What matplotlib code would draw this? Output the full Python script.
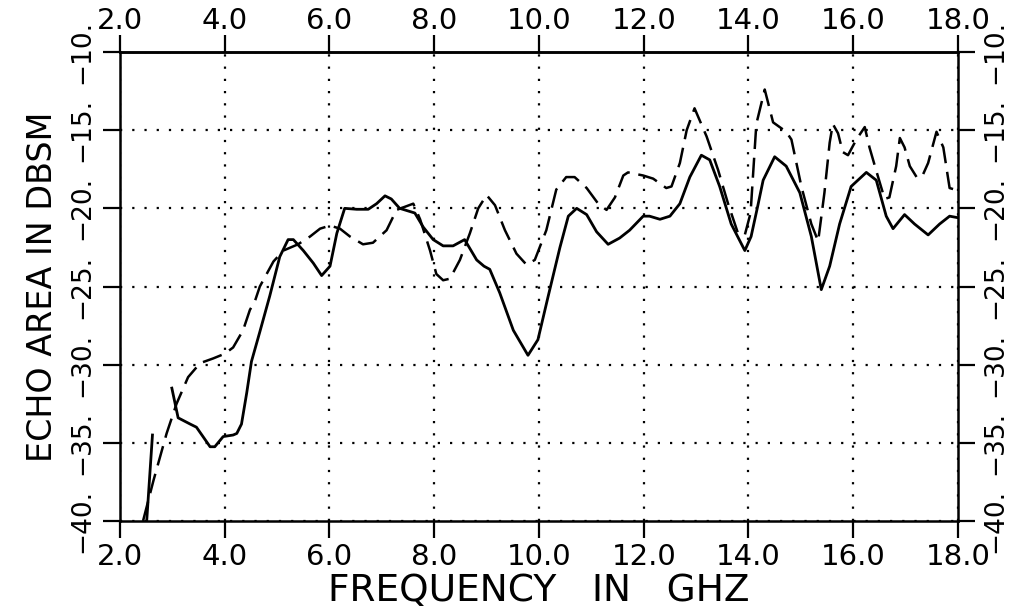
import numpy as np
import matplotlib
matplotlib.use("Agg")
import matplotlib.pyplot as plt

# ---- data ----
solid_freq = [2.51, 2.62, np.nan, 2.99, 3.11, 3.34, 3.46, 3.72, 3.81, 3.97, 4.16, 4.23, 4.32,
              4.42, 4.51, 4.67, 4.86, 5.05, 5.21, 5.31, 5.50, 5.69, 5.85, 6.01, 6.14, 6.29,
              6.52, 6.74, 6.90, 7.06, 7.18, 7.34, 7.63, 7.79, 7.98, 8.17, 8.36, 8.58, 8.81,
              8.95, 9.06, 9.25, 9.51, 9.79, 9.98, 10.17, 10.40, 10.56, 10.72, 10.91, 11.10,
              11.32, 11.54, 11.73, 11.99, 12.11, 12.31, 12.50, 12.69, 12.88, 13.10, 13.26,
              13.45, 13.67, 13.93, 14.05, 14.18, 14.28, 14.50, 14.72, 14.98, 15.20, 15.39,
              15.55, 15.74, 15.96, 16.25, 16.44, 16.63, 16.76, 16.98, 17.17, 17.43, 17.65,
              17.84, 18.0]
solid_db = [-40.0, -34.5, np.nan, -31.5, -33.4, -33.8, -34.0, -35.25, -35.25, -34.6, -34.5, -34.4, -33.8,
            -31.8, -29.8, -27.9, -25.6, -23.1, -22.0, -22.0, -22.7, -23.5, -24.3, -23.7, -21.6, -20.0,
            -20.06, -20.06, -19.7, -19.2, -19.4, -20.0, -20.3, -21.2, -22.0, -22.4, -22.4, -22.0, -23.3,
            -23.7, -23.9, -25.4, -27.8, -29.4, -28.4, -25.7, -22.5, -20.5, -20.0, -20.4, -21.5,
            -22.3, -21.9, -21.4, -20.5, -20.5, -20.7, -20.5, -19.7, -18.0, -16.6, -16.9,
            -18.6, -21.0, -22.7, -21.8, -19.8, -18.2, -16.7, -17.3, -19.0, -21.8, -25.2,
            -23.7, -21.0, -18.6, -17.7, -18.2, -20.5, -21.3, -20.4, -21.0, -21.7, -21.0,
            -20.5, -20.6]

dashed_freq = [2.44, 2.64, 2.89, 3.08, 3.30, 3.53, 3.78, 4.00, 4.16, 4.35, 4.48, 4.58, 4.67,
               4.93, 5.12, 5.40, 5.63, 5.82, 6.01, 6.20, 6.39, 6.64, 6.83, 7.09, 7.28, 7.44,
               7.60, 7.73, 7.92, 8.04, 8.17, 8.30, 8.49, 8.68, 8.84, 9.00, 9.16, 9.35, 9.57,
               9.76, 9.92, 10.14, 10.33, 10.52, 10.68, 10.91, 11.13, 11.29, 11.45, 11.61, 11.70,
               11.99, 12.18, 12.43, 12.53, 12.69, 12.82, 12.97, 13.20, 13.42, 13.61, 13.80, 13.93,
               14.04, 14.15, 14.31, 14.47, 14.72, 14.82, 15.01, 15.20, 15.33, 15.45, 15.55, 15.61,
               15.71, 15.80, 15.90, 16.06, 16.22, 16.31, 16.44, 16.60, 16.69, 16.82, 16.89, 16.98,
               17.08, 17.21, 17.31, 17.43, 17.59, 17.72, 17.84, 17.94]
dashed_db = [-40.0, -37.4, -34.4, -32.5, -30.8, -29.9, -29.6, -29.3, -28.9, -27.8, -26.5, -25.9, -25.0,
             -23.4, -22.7, -22.3, -21.8, -21.3, -21.1, -21.3, -21.8, -22.3, -22.2, -21.4, -20.1, -19.9,
             -19.7, -20.7, -22.7, -24.2, -24.6, -24.5, -23.3, -21.6, -20.0, -19.15, -19.8, -21.4, -22.9,
             -23.6, -23.3, -21.4, -18.8, -18.0, -18.0, -18.7, -19.7, -20.1, -19.3, -17.9, -17.7,
             -17.9, -18.1, -18.7, -18.6, -17.1, -15.0, -13.6, -15.4, -17.55, -19.7, -21.6, -21.7,
             -20.3, -14.6, -12.4, -14.5, -15.1, -15.6, -18.6, -21.0, -22.1, -19.0, -15.8, -14.6,
             -15.2, -16.4, -16.6, -15.6, -14.8, -16.1, -17.6, -19.4, -19.3, -17.3, -15.5, -16.1,
             -17.3, -18.0, -18.0, -17.1, -15.1, -16.1, -18.7, -18.8]

xticks = [2, 4, 6, 8, 10, 12, 14, 16, 18]
xtick_labels = ["2.0", "4.0", "6.0", "8.0", "10.0", "12.0", "14.0", "16.0", "18.0"]
yticks = [-40, -35, -30, -25, -20, -15, -10]
ytick_labels = ["\u221240.", "\u221235.", "\u221230.", "\u221225.", "\u221220.", "\u221215.", "\u221210."]
x_label = "FREQUENCY   IN   GHZ"
y_label = "ECHO AREA IN DBSM"

# ---- figure ----
plt.rcParams['font.family'] = ['DejaVu Sans']
fig = plt.figure(figsize=(10.10, 6.12), dpi=100)
ax = fig.add_axes([0.1188, 0.1487, 0.8297, 0.7663])

ax.plot(solid_freq, solid_db, color='black', lw=2.0, solid_joinstyle='round')
ax.plot(dashed_freq, dashed_db, color='black', lw=1.8, dashes=(8, 3.5))

ax.set_xlim(2, 18)
ax.set_ylim(-40, -10)
ax.set_xticks(xticks)
ax.set_xticklabels(xtick_labels)
ax.set_yticks(yticks)
ax.set_yticklabels(ytick_labels)

ax.grid(True, color='black', linestyle=(0, (1, 4.5)), lw=1.6)

for s in ax.spines.values():
    s.set_linewidth(1.8)

ax.tick_params(axis='both', direction='out', length=12.5, width=1.6,
               top=False, right=True, labeltop=False, labelright=True)
ax.tick_params(axis='x', labelsize=21, pad=3)
ax.tick_params(axis='y', labelsize=19, pad=5)
for t in ax.yaxis.get_major_ticks():
    t.label1.set_rotation(90)
    t.label1.set_va('center')
    t.label2.set_rotation(90)
    t.label2.set_va('center')

# top axis with its own padding
top = ax.secondary_xaxis('top')
top.set_xticks(xticks)
top.set_xticklabels(xtick_labels)
top.tick_params(direction='out', length=12.5, width=1.6, labelsize=21, pad=0)
top.spines['top'].set_linewidth(1.8)

ax.set_xlabel(x_label, fontsize=27, labelpad=2)
ax.set_ylabel(y_label, fontsize=24, labelpad=8)

fig.savefig("out.png", dpi=100)
